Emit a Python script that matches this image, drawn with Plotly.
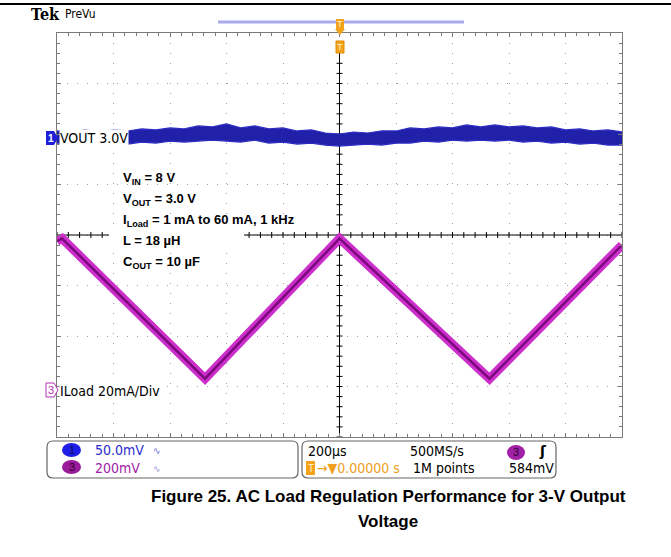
import plotly.graph_objects as go

W, H = 671, 557
PL, PR, PT, PB = 57, 622, 33, 437  # plot area in pixels

# ---------------- data (read from the scope capture) ----------------
# time in microseconds (200 us/div, trigger at 0)
t_vout = [-1000, -950, -900, -850, -800, -750, -700, -650, -600, -550, -500,
          -450, -400, -350, -300, -250, -200, -150, -100, -50, 0,
          50, 100, 150, 200, 250, 300, 350, 400, 450, 500,
          550, 600, 650, 700, 750, 800, 850, 900, 950, 1000]
# VOUT ripple envelope, mV relative to 3.0 V (CH1, 50 mV/div)
vout_hi_mv = [9, 8, 10, 8, 10, 9, 11, 10, 12, 11, 14,
              13, 16, 12, 14, 11, 12, 9, 10, 7, 6,
              8, 7, 9, 9, 12, 11, 13, 12, 15, 13,
              15, 13, 14, 12, 13, 10, 11, 9, 10, 8]
vout_lo_mv = [-3, -4, -3, -4, -2, -4, -2, -3, -1, -2, -1,
              0, -1, -2, 0, -3, -2, -4, -3, -5, -6,
              -5, -4, -5, -3, -3, -1, -2, 0, -1, 0,
              -1, 0, -2, -1, -3, -2, -4, -3, -5, -5]
# load current (CH3, 20 mA/div)
t_iload = [-1000, -982, -476, 0, 531, 1000]
iload_ma = [59, 60, 4.5, 60, 4.5, 57.4]

CH1_MV_PER_DIV = 50.0
CH1_POS_DIV = 1.88
CH3_MA_PER_DIV = 20.0
CH3_POS_DIV = -3.07

spec_lines = [
    "V<sub>IN</sub> = 8 V",
    "V<sub>OUT</sub> = 3.0 V",
    "I<sub>Load</sub> = 1 mA to 60 mA, 1 kHz",
    "L = 18 \u00b5H",
    "C<sub>OUT</sub> = 10 \u00b5F",
]
caption = ["Figure 25. AC Load Regulation Performance for 3-V Output", "Voltage"]

# ---------------- helpers ----------------
def px(x):
    return (x - PL) / (PR - PL)

def py(y):
    return (PB - y) / (PB - PT)

def tx(x):  # pixel -> time axis value
    return (x - (PL + PR) / 2) / ((PR - PL) / 10) * 200

def dy(y):  # pixel -> division axis value
    return ((PT + PB) / 2 - y) / ((PB - PT) / 8)

NARROW = "Liberation Sans Narrow, DejaVu Sans Condensed, Arial Narrow, sans-serif"
ARIAL = "Liberation Sans, Arial, sans-serif"

y1_hi = [CH1_POS_DIV + v / CH1_MV_PER_DIV for v in vout_hi_mv]
y1_lo = [CH1_POS_DIV + v / CH1_MV_PER_DIV for v in vout_lo_mv]
y3 = [CH3_POS_DIV + i / CH3_MA_PER_DIV for i in iload_ma]

fig = go.Figure()
fig.add_trace(go.Scatter(x=t_vout, y=y1_lo, mode="lines",
                         line=dict(color="#2c2cc4", width=1.2), hoverinfo="skip"))
fig.add_trace(go.Scatter(x=t_vout, y=y1_hi, mode="lines", fill="tonexty",
                         fillcolor="#2020a8", line=dict(color="#2c2cc4", width=1.2),
                         hoverinfo="skip"))
fig.add_trace(go.Scatter(x=t_iload, y=y3, mode="lines",
                         line=dict(color="#cc2fcc", width=9), hoverinfo="skip"))
fig.add_trace(go.Scatter(x=t_iload, y=y3, mode="lines",
                         line=dict(color="#7d0a7d", width=2.5), hoverinfo="skip"))

shapes = []
ann = []

# centre cross lines
shapes.append(dict(type="line", xref="x", yref="y", x0=-1000, x1=1000, y0=0, y1=0,
                   line=dict(color="black", width=1), layer="between"))
shapes.append(dict(type="line", xref="x", yref="y", x0=0, x1=0, y0=-4, y1=dy(53),
                   line=dict(color="black", width=1), layer="between"))

# centre cross ticks
t = -1000
while t <= 1000:
    shapes.append(dict(type="line", xref="x", yref="y", x0=t, x1=t, ysizemode="pixel",
                       yanchor=0, y0=-3, y1=3, line=dict(color="black", width=1),
                       layer="between"))
    t += 40
k = -20
while k <= 20:
    v = k * 0.2
    if v < 3.6:
        shapes.append(dict(type="line", xref="x", yref="y", y0=v, y1=v, xsizemode="pixel",
                           xanchor=0, x0=-3, x1=3, line=dict(color="black", width=1),
                           layer="between"))
    k += 1

# white gap behind the text row that sits on the centre line
shapes.append(dict(type="rect", xref="x", yref="y", x0=tx(109), x1=tx(244),
                   y0=dy(249), y1=dy(229), fillcolor="white", line=dict(width=0),
                   layer="between"))

# top page rule
shapes.append(dict(type="line", xref="paper", yref="paper", x0=px(0), x1=px(671),
                   y0=py(4), y1=py(4), line=dict(color="black", width=2)))
# PreVu record bar
shapes.append(dict(type="line", xref="paper", yref="paper", x0=px(218), x1=px(464),
                   y0=py(22), y1=py(22), line=dict(color="#aaaaee", width=3)))
# trigger markers
shapes.append(dict(type="rect", xref="paper", yref="paper", x0=px(336), x1=px(344),
                   y0=py(29), y1=py(19), fillcolor="#f3a21b", line=dict(width=0)))
shapes.append(dict(type="path", xref="paper", yref="paper",
                   path=f"M {px(335)} {py(29)} L {px(345)} {py(29)} L {px(340)} {py(35)} Z",
                   fillcolor="#f3a21b", line=dict(width=0)))
shapes.append(dict(type="rect", xref="paper", yref="paper", x0=px(336), x1=px(344),
                   y0=py(53), y1=py(41), fillcolor="#f3a21b", line=dict(color="#e08a00", width=1)))


def rounded(x0, y0, x1, y1, r):
    return (f"M {px(x0 + r)} {py(y0)} L {px(x1 - r)} {py(y0)} Q {px(x1)} {py(y0)} {px(x1)} {py(y0 + r)} "
            f"L {px(x1)} {py(y1 - r)} Q {px(x1)} {py(y1)} {px(x1 - r)} {py(y1)} "
            f"L {px(x0 + r)} {py(y1)} Q {px(x0)} {py(y1)} {px(x0)} {py(y1 - r)} "
            f"L {px(x0)} {py(y0 + r)} Q {px(x0)} {py(y0)} {px(x0 + r)} {py(y0)} Z")

shapes.append(dict(type="path", xref="paper", yref="paper", path=rounded(47, 441, 298, 478, 6),
                   line=dict(color="#666666", width=1.2), fillcolor="white"))
shapes.append(dict(type="path", xref="paper", yref="paper", path=rounded(302, 441, 556, 478, 6),
                   line=dict(color="#666666", width=1.2), fillcolor="white"))
# legend channel badges
shapes.append(dict(type="circle", xref="paper", yref="paper", x0=px(62), x1=px(81),
                   y0=py(457), y1=py(443), fillcolor="#1e1ee6", line=dict(width=0)))
shapes.append(dict(type="circle", xref="paper", yref="paper", x0=px(62), x1=px(81),
                   y0=py(474), y1=py(460), fillcolor="#9a1a9a", line=dict(width=0)))
shapes.append(dict(type="circle", xref="paper", yref="paper", x0=px(507), x1=px(525),
                   y0=py(460), y1=py(445), fillcolor="#a020a8", line=dict(width=0)))
shapes.append(dict(type="rect", xref="paper", yref="paper", x0=px(306), x1=px(315),
                   y0=py(475), y1=py(461), fillcolor="#f3a21b", line=dict(width=0)))
# channel tags at the left edge
shapes.append(dict(type="path", xref="paper", yref="paper",
                   path=f"M {px(46)} {py(131)} L {px(54)} {py(131)} L {px(58)} {py(138)} "
                        f"L {px(54)} {py(145)} L {px(46)} {py(145)} Z",
                   fillcolor="#1f1fd8", line=dict(width=0)))
shapes.append(dict(type="path", xref="paper", yref="paper",
                   path=f"M {px(46)} {py(383)} L {px(54)} {py(383)} L {px(58)} {py(390)} "
                        f"L {px(54)} {py(397)} L {px(46)} {py(397)} Z",
                   fillcolor="white", line=dict(color="#b030b0", width=1)))


def A(x, y, text, size=13, color="black", family=NARROW, xanchor="left", **kw):
    d = dict(xref="paper", yref="paper", x=px(x), y=py(y), text=text, showarrow=False,
             xanchor=xanchor, yanchor="middle", font=dict(size=size, color=color, family=family))
    d.update(kw)
    ann.append(d)

A(62, 15, "<b>Tek</b>", size=16, family="DejaVu Serif Condensed, DejaVu Serif, serif",
  xanchor="right")
A(63, 14, "PreVu", size=12)
A(340, 24, "T", size=9, color="#fff3d0", family=ARIAL, xanchor="center")
A(340, 47, "T", size=9, color="#fff3d0", family=ARIAL, xanchor="center")

# channel markers
A(50.5, 138, "<b>1</b>", size=10, color="white", family=ARIAL, xanchor="center")
A(59, 138, "VOUT 3.0V", size=14, bgcolor="white", borderpad=0)
A(50.5, 390, "3", size=11, color="#b030b0", family=ARIAL, xanchor="center")
A(59, 391, "ILoad 20mA/Div", size=14, bgcolor="white", borderpad=0)

# condition text
for i, line in enumerate(spec_lines):
    yy = [178, 199, 220, 240, 262][i]
    A(121, yy, f"<b>{line}</b>", size=13, family=ARIAL)

# legend texts
A(71.5, 450, "1", size=11, color="#0a0a60", family=ARIAL, xanchor="center")
A(71.5, 467, "3", size=11, color="#300030", family=ARIAL, xanchor="center")
A(93, 450, "50.0mV", size=14, color="#2a2ad0")
A(93, 468, "200mV", size=14, color="#a020a8")
A(151, 450, "\u223f", size=10, color="#6a6ad8")
A(151, 468, "\u223f", size=10, color="#9a9ad8")
A(306, 451, "200\u00b5s", size=14)
A(408, 451, "500MS/s", size=14)
A(516, 452, "3", size=11, color="#300030", family=ARIAL, xanchor="center")
A(537, 451, "<b>\u0283</b>", size=14, family="DejaVu Sans, sans-serif")
A(310.5, 468, "T", size=10, color="#fff3d0", family=ARIAL, xanchor="center")
A(315, 468, "\u2192\u25bc0.00000 s", size=14, color="#f0a020")
A(411, 468, "1M points", size=14)
A(507, 468, "584mV", size=14)

# caption
A(388, 497, f"<b>{caption[0]}</b>", size=17, family=ARIAL, xanchor="center")
A(388, 521, f"<b>{caption[1]}</b>", size=17, family=ARIAL, xanchor="center")

axis_common = dict(showgrid=True, gridcolor="#a0a0a0", griddash="1px,9px", gridwidth=1,
                   zeroline=False,
                   showline=True, linecolor="#7a7a7a", linewidth=1, mirror="ticks",
                   ticks="inside", ticklen=4, tickcolor="#7a7a7a", showticklabels=False,
                   fixedrange=True)

fig.update_layout(
    width=W, height=H,
    margin=dict(l=PL, r=W - PR, t=PT, b=H - PB),
    paper_bgcolor="white", plot_bgcolor="white",
    showlegend=False,
    xaxis=dict(range=[-1000, 1000], dtick=200, tick0=0,
               minor=dict(dtick=40, tick0=0, ticks="inside", ticklen=3,
                          tickcolor="#7a7a7a", showgrid=False),
               **axis_common),
    yaxis=dict(range=[-4, 4], dtick=1, tick0=0,
               minor=dict(dtick=0.2, tick0=0, ticks="inside", ticklen=3,
                          tickcolor="#7a7a7a", showgrid=False),
               **axis_common),
    shapes=shapes,
    annotations=ann,
)

fig.write_html("out.html", config={"displayModeBar": False},
               post_script="document.body.style.margin='0px';document.body.style.padding='0px';")
